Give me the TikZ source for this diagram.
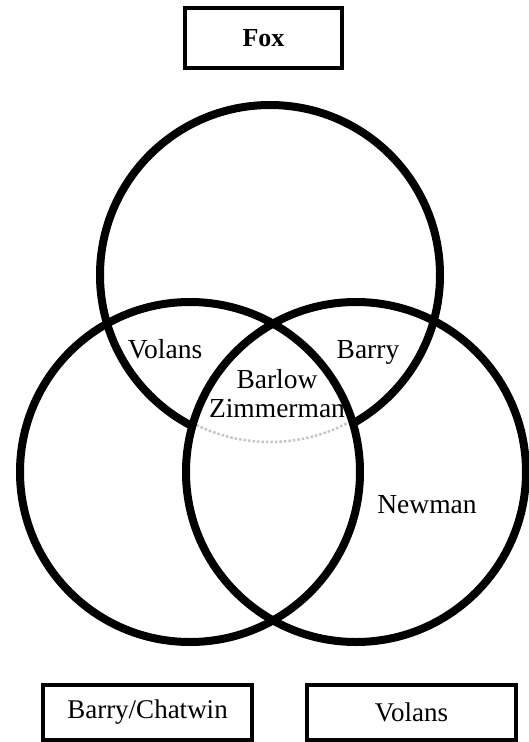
\documentclass[tikz,border=0pt]{standalone}
\usepackage{fontspec}
\setmainfont{Liberation Serif}
\begin{document}
\begin{tikzpicture}[x=1pt,y=-1pt,
  ring/.style={line width=8pt},
  labelbox/.style={draw,line width=3.5pt,rectangle,minimum width=209pt,minimum height=55pt,inner sep=0pt,font=\fontsize{27}{32}\selectfont},
  lbl/.style={font=\fontsize{27.5}{32}\selectfont,inner sep=0pt,anchor=base}]
\useasboundingbox[fill=white] (0,0) rectangle (529,742);
\coordinate (cT) at (270,275);
\coordinate (cL) at (190,472);
\coordinate (cR) at (356,472);
% top circle
\draw[ring] (cT) circle[radius=170pt];
\begin{scope}
  \clip (cL) circle[radius=170pt];
  \clip (cR) circle[radius=170pt];
  \draw[white,line width=10pt] (cT) circle[radius=170pt];
  \draw[gray!45,dotted,line width=2.5pt] (cT) circle[radius=167pt];
\end{scope}
\draw[ring] (cL) circle[radius=170pt];
\draw[ring] (cR) circle[radius=170pt];
% boxes
\node[labelbox,minimum width=157pt,minimum height=60pt,font=\fontsize{26}{30}\selectfont\bfseries] (fox) at (263.5,38) {Fox};
\node[labelbox] (bc) at (147.5,712.5) {Barry/Chatwin};
\node[labelbox] (vb) at (411.5,712.5) {Volans};
% region labels
\node[lbl] (volans) at (165,358) {Volans};
\node[lbl] (barry) at (368,358) {Barry};
\node[lbl] (barlow) at (277,388) {Barlow};
\node[lbl] (zimm) at (277,417) {Zimmerman};
\node[lbl] (newman) at (427,513) {Newman};
\end{tikzpicture}
\end{document}
